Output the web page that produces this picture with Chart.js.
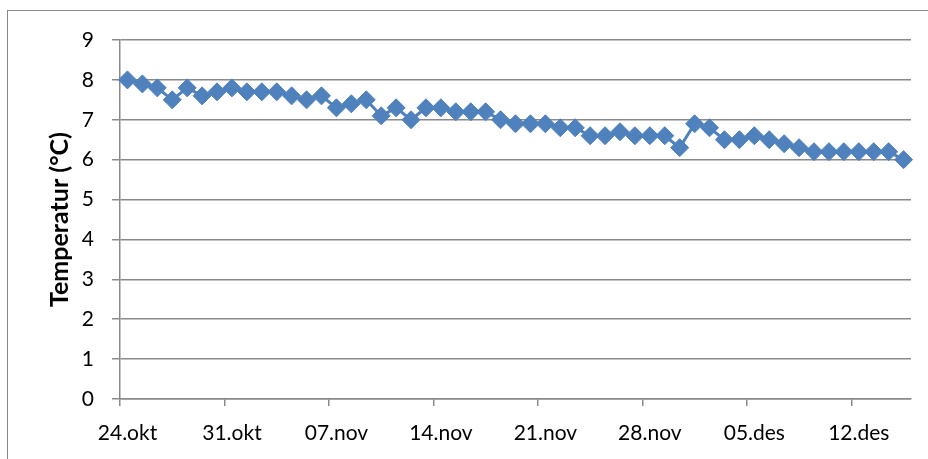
<!DOCTYPE html>
<html>
<head>
<meta charset="utf-8">
<script src="https://cdn.jsdelivr.net/npm/chart.js@4/dist/chart.umd.min.js"></script>
<style>
  html, body { margin: 0; padding: 0; background: #fff; overflow: hidden; }
  #wrap { position: relative; width: 928px; height: 459px; }
  #frame { position: absolute; left: 7px; top: 10px; width: 940px; height: 470px;
           border-left: 1px solid #888; border-top: 1px solid #888; box-sizing: border-box; }
  canvas { position: absolute; left: 0; top: 0; }
</style>
</head>
<body>
<div id="wrap">
  <div id="frame"></div>
  <canvas id="c" width="928" height="459"></canvas>
</div>
<script>
// Daily measurement dates
const dates = [
  '24.okt','25.okt','26.okt','27.okt','28.okt','29.okt','30.okt','31.okt',
  '01.nov','02.nov','03.nov','04.nov','05.nov','06.nov','07.nov','08.nov','09.nov','10.nov',
  '11.nov','12.nov','13.nov','14.nov','15.nov','16.nov','17.nov','18.nov','19.nov','20.nov',
  '21.nov','22.nov','23.nov','24.nov','25.nov','26.nov','27.nov','28.nov','29.nov','30.nov',
  '01.des','02.des','03.des','04.des','05.des','06.des','07.des','08.des','09.des','10.des',
  '11.des','12.des','13.des','14.des','15.des'
];

// Temperature (°C) per day
const temperatures = [
  8.0, 7.9, 7.8, 7.5, 7.8, 7.6, 7.7, 7.8, 7.7, 7.7, 7.7, 7.6, 7.5, 7.6, 7.3, 7.4,
  7.5, 7.1, 7.3, 7.0, 7.3, 7.3, 7.2, 7.2, 7.2, 7.0, 6.9, 6.9, 6.9, 6.8, 6.8, 6.6,
  6.6, 6.7, 6.6, 6.6, 6.6, 6.3, 6.9, 6.8, 6.5, 6.5, 6.6, 6.5, 6.4, 6.3, 6.2, 6.2,
  6.2, 6.2, 6.2, 6.2, 6.0
];

// Weekly axis labels (every 7th day)
const tickLabels = ['24.okt','31.okt','07.nov','14.nov','21.nov','28.nov','05.des','12.des'];
const yTicks = [0, 1, 2, 3, 4, 5, 6, 7, 8, 9];

const AXIS_GRAY = '#8a8a8a';
const BLUE = '#4F81BD';
const FONT = 'Lato, "Open Sans", sans-serif';

// each day occupies one unit; the value sits in the middle of its day
const points = temperatures.map((t, i) => ({ x: i + 0.5, y: t }));

new Chart(document.getElementById('c'), {
  type: 'line',
  data: {
    datasets: [{
      label: 'Temperatur',
      data: points,
      borderColor: BLUE,
      backgroundColor: BLUE,
      borderWidth: 3,
      pointStyle: 'rectRot',
      pointRadius: 9,
      pointBorderWidth: 1,
      pointBackgroundColor: BLUE,
      pointBorderColor: BLUE,
      tension: 0,
      clip: false
    }]
  },
  options: {
    responsive: false,
    animation: false,
    events: [],
    layout: { padding: { left: 0, right: 17, top: 40, bottom: 13 } },
    plugins: { legend: { display: false }, tooltip: { enabled: false } },
    scales: {
      x: {
        type: 'linear',
        min: 0,
        max: dates.length,
        afterBuildTicks: (scale) => {
          scale.ticks = tickLabels.map(l => ({ value: dates.indexOf(l) }));
        },
        afterFit: (scale) => { scale.height = 47; },
        ticks: {
          callback: (v) => dates[v],
          font: { family: FONT, size: 21 },
          color: '#000',
          padding: 15,
          // labels sit in the middle of their day, the tick mark at its start
          labelOffset: 7.5,
          maxRotation: 0,
          autoSkip: false
        },
        grid: { drawOnChartArea: false, drawTicks: true, tickLength: 7, color: AXIS_GRAY, lineWidth: 1.5 },
        border: { color: AXIS_GRAY, width: 1.5 }
      },
      y: {
        min: 0,
        max: 9,
        afterBuildTicks: (scale) => { scale.ticks = yTicks.map(v => ({ value: v })); },
        afterFit: (scale) => { scale.width = 120; },
        ticks: {
          font: { family: FONT, size: 21 },
          color: '#000',
          padding: 18
        },
        grid: { color: AXIS_GRAY, lineWidth: 1.5, tickLength: 8 },
        border: { color: AXIS_GRAY, width: 1.5 },
        title: {
          display: true,
          text: 'Temperatur (°C)',
          font: { family: FONT, size: 25, weight: 'bold' },
          color: '#000',
          padding: { top: 45, bottom: 0 }
        }
      }
    }
  }
});
</script>
</body>
</html>
